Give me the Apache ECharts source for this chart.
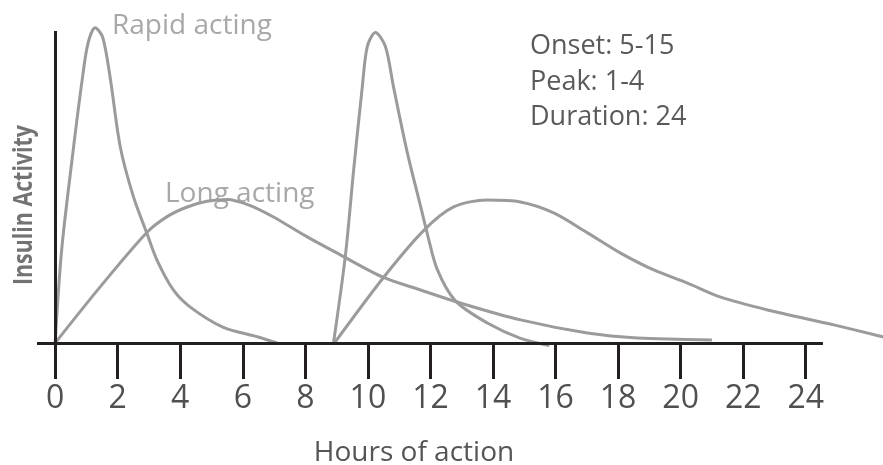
<!DOCTYPE html>
<html>
<head>
<meta charset="utf-8">
<script src="https://cdn.jsdelivr.net/npm/echarts@6/dist/echarts.min.js"></script>
<style>html,body{margin:0;padding:0;background:#fff;}#chart{width:883px;height:465px;}</style>
</head>
<body>
<div id="chart"></div>
<script>
var tickHours = [0, 2, 4, 6, 8, 10, 12, 14, 16, 18, 20, 22, 24];
var axisLineStart = -0.58;
var axisLineEnd = 24.55;
var activityTop = 100;

var rapid1Hours = [0, 0.21, 0.58, 0.86, 1.05, 1.28, 1.52, 1.76, 2.08, 2.5, 2.94, 3.26, 3.78, 4.32, 5.38, 6.46, 7.1];
var rapid1Values = [0, 30, 62, 84, 96, 101, 98, 85, 63, 47, 35, 26.5, 17, 11.5, 5, 2, 0];

var long1Hours = [0, 1.44, 2.94, 3.58, 4.2, 4.85, 5.5, 6.2, 6.98, 8.06, 9.02, 10.5, 11.68, 12.96, 14.88, 17.02, 18.62, 21.0];
var long1Values = [0, 18, 35.5, 40.5, 43.5, 45.4, 46, 44.2, 40.4, 34, 28.8, 21, 17, 12.8, 7.4, 3.2, 1.6, 1];

var rapid2Hours = [8.9, 9.28, 9.54, 9.82, 9.98, 10.24, 10.56, 10.82, 11.26, 11.68, 11.9, 12.22, 12.8, 13.82, 14.88, 15.8];
var rapid2Values = [0, 28, 55, 82, 95, 99.5, 95, 82, 61, 44, 35, 23.5, 13.5, 6.4, 1.5, -0.8];

var long2Hours = [8.93, 10.5, 11.78, 12.74, 13.82, 14.88, 15.94, 17.02, 18.08, 19.14, 20.22, 21.28, 22.78, 24.9, 26.5];
var long2Values = [0, 21, 36, 43.6, 45.8, 45.2, 41.7, 35.3, 28.8, 23.4, 19.2, 14.7, 10.6, 5.8, 1.9];

function pairs(xs, ys) { return xs.map(function (x, i) { return [x, ys[i]]; }); }

var FONT = 'Open Sans';
var curveStyle = { color: '#9b9b9b', width: 3 };
function curve(name, xs, ys, extra) {
  var s = {
    name: name, type: 'line', data: pairs(xs, ys), showSymbol: false, smooth: 0.3,
    clip: false, lineStyle: curveStyle, itemStyle: { color: '#9b9b9b' }, silent: true
  };
  if (extra) { for (var k in extra) s[k] = extra[k]; }
  return s;
}

function textWidth(text, font) {
  var c = document.createElement('canvas').getContext('2d');
  c.font = font;
  return c.measureText(text).width;
}
var yName = 'Insulin Activity';
var yNameScale = 160 / textWidth(yName, 'bold 27px "' + FONT + '"');

var axisMarks = {
  silent: true,
  symbol: ['none', 'none'],
  label: { show: false },
  lineStyle: { color: '#231f20', width: 3, type: 'solid' },
  emphasis: { disabled: true },
  data: [
    [{ coord: [axisLineStart, 0] }, { coord: [axisLineEnd, 0] }],
    [{ coord: [0, 0] }, { coord: [0, activityTop] }]
  ]
};

var chart = echarts.init(document.getElementById('chart'), null, { renderer: 'canvas' });
chart.setOption({
  animation: false,
  backgroundColor: '#fff',
  grid: { left: 37, right: 0, top: 18.5, bottom: 122, containLabel: false },
  xAxis: {
    type: 'value', min: axisLineStart, max: 26.47,
    axisLine: { show: false },
    axisTick: { show: true, length: 36, lineStyle: { color: '#231f20', width: 3 }, customValues: tickHours },
    axisLabel: { customValues: tickHours, fontSize: 32, color: '#505050', fontFamily: FONT, margin: 40 },
    splitLine: { show: false }
  },
  yAxis: {
    type: 'value', min: 0, max: 104,
    axisLine: { show: false },
    axisTick: { show: false }, axisLabel: { show: false }, splitLine: { show: false }
  },
  series: [
    curve('Rapid acting', rapid1Hours, rapid1Values, { markLine: axisMarks }),
    curve('Long acting', long1Hours, long1Values),
    curve('Rapid acting 2', rapid2Hours, rapid2Values),
    curve('Long acting 2', long2Hours, long2Values)
  ],
  graphic: [
    { type: 'text', x: 112, y: 26, style: { text: 'Rapid acting', fontSize: 28, fontFamily: FONT, fill: '#a8a8a8', verticalAlign: 'middle' } },
    { type: 'text', x: 165, y: 194, style: { text: 'Long acting', fontSize: 28, fontFamily: FONT, fill: '#a8a8a8', verticalAlign: 'middle' } },
    { type: 'text', x: 530, y: 46, style: { text: 'Onset: 5-15', fontSize: 27, fontFamily: FONT, fill: '#5a5a5a', verticalAlign: 'middle' } },
    { type: 'text', x: 530, y: 82, style: { text: 'Peak: 1-4', fontSize: 27, fontFamily: FONT, fill: '#5a5a5a', verticalAlign: 'middle' } },
    { type: 'text', x: 530, y: 117, style: { text: 'Duration: 24', fontSize: 27, fontFamily: FONT, fill: '#5a5a5a', verticalAlign: 'middle' } },
    { type: 'text', x: 414, y: 453, style: { text: 'Hours of action', fontSize: 28, fontFamily: FONT, fill: '#555', align: 'center', verticalAlign: 'middle' } },
    { type: 'text', x: 24, y: 205, rotation: Math.PI / 2, scaleX: yNameScale, style: { text: yName, fontSize: 27, fontWeight: 'bold', fontFamily: FONT, fill: '#737373', align: 'center', verticalAlign: 'middle' } }
  ]
});
</script>
</body>
</html>
